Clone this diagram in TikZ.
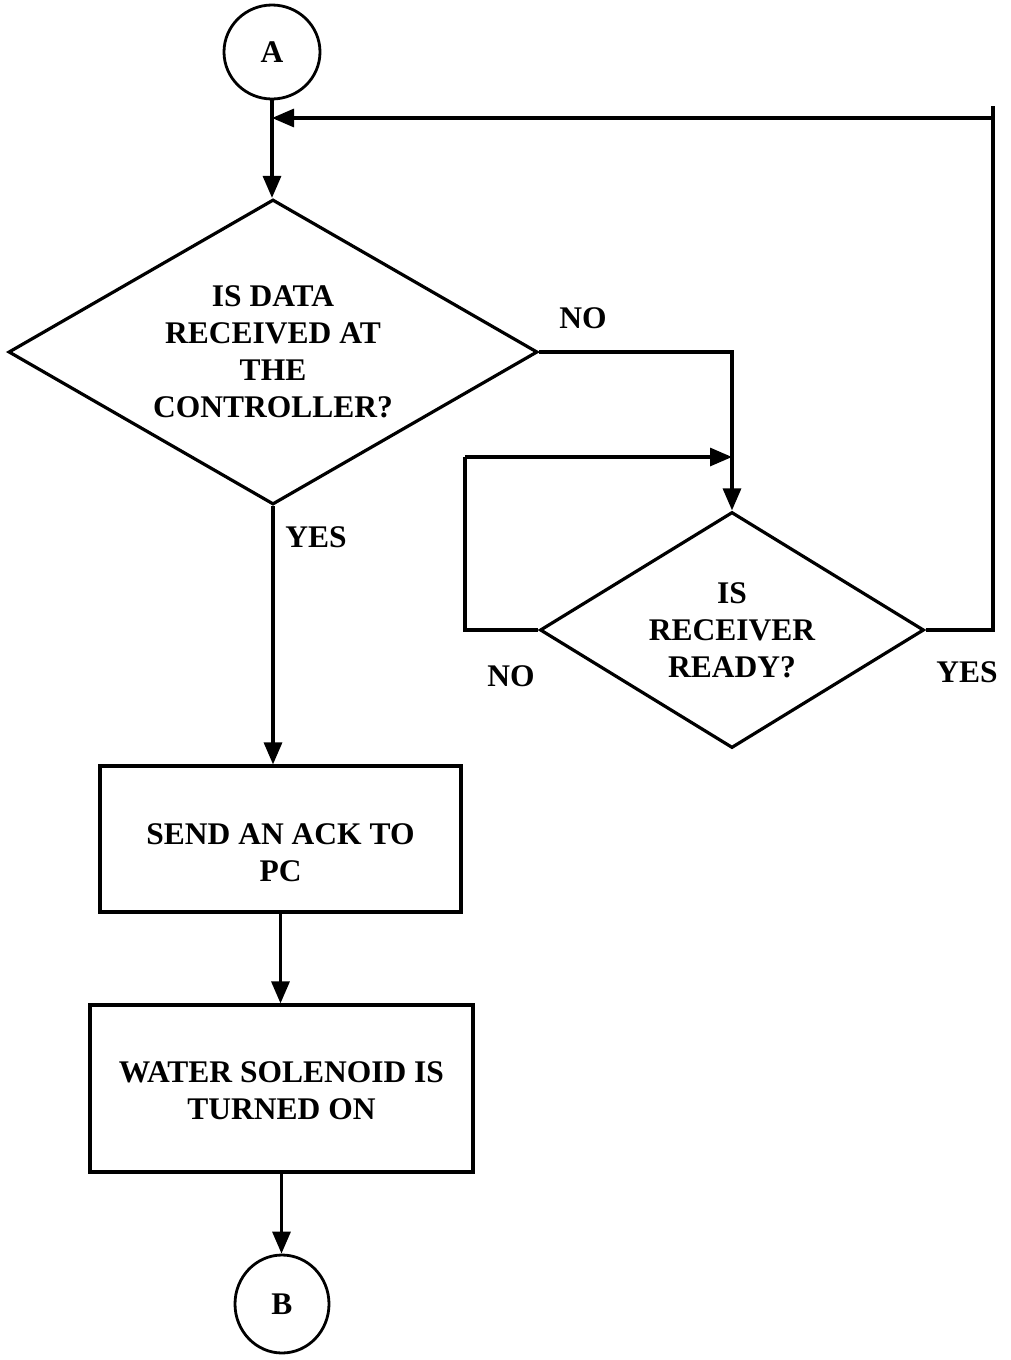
\documentclass[tikz,border=0pt]{standalone}
\usepackage{fontspec}
\setmainfont{Liberation Serif}
\usetikzlibrary{shapes.geometric,arrows.meta}
\begin{document}
\begin{tikzpicture}[x=1pt,y=-1pt,
  every node/.style={font=\fontsize{31.5}{37}\selectfont\bfseries},
  flow/.style={line width=3.2pt},
  arr/.style={flow,-{Triangle[length=22pt,width=18pt]}},
  conn/.style={draw,ellipse,line width=2.8pt,inner sep=0pt},
  decision/.style={draw,diamond,line width=3.2pt,align=center,inner sep=0pt},
  stepbox/.style={draw,rectangle,line width=3.2pt,inner sep=0pt},
  txt/.style={align=center,inner sep=0pt}]
\useasboundingbox (0,0) rectangle (1011,1360);

% connectors and boxes
\node[conn,minimum width=96pt,minimum height=94pt] (A) at (272,52) {A};
\node[decision,minimum width=529pt,minimum height=305pt,aspect=1.73] (d1) at (273,352)
  {IS DATA\\RECEIVED AT\\THE\\CONTROLLER?};
\node[decision,minimum width=384pt,minimum height=236pt,aspect=1.63] (d2) at (732,630)
  {IS\\RECEIVER\\READY?};
\node[stepbox,minimum width=361pt,minimum height=146pt] (r1) at (280.5,839) {};
\node[txt] (r1t) at (280.5,853) {SEND AN ACK TO\\PC};
\node[stepbox,minimum width=383pt,minimum height=167pt] (r2) at (281.5,1088.5) {};
\node[txt] (r2t) at (281.5,1091) {WATER SOLENOID IS\\TURNED ON};
\node[conn,minimum width=94pt,minimum height=98pt] (B) at (282,1304) {B};

% branch labels
\node[txt] (no1) at (583,318) {NO};
\node[txt] (yes1) at (316,537) {YES};
\node[txt] (no2) at (511,676) {NO};
\node[txt] (yes2) at (967,672) {YES};

% routing points
\coordinate (fb) at (993,118);
\coordinate (fbtop) at (993,106);
\coordinate (join) at (A.south |- fb);
\coordinate (n1) at (d2.north |- d1.east);
\coordinate (loopl) at (465,457);
\coordinate (loopr) at (d2.north |- loopl);

% main flow
\draw[arr] (A.south) -- (A.south |- d1.north);
\draw[arr] (d1.south) -- (d1.south |- r1.north);
\draw[arr] (r1.south) -- (r1.south |- r2.north);
\draw[arr] (r2.south) -- (r2.south |- B.north);

% NO branch of first decision
\draw[arr] (d1.east) -- (n1) -- (d2.north);

% NO loop of second decision
\draw[flow] (d2.west) -| (loopl);
\draw[arr] (loopl) -- (loopr);

% YES branch back to the top
\draw[flow] (d2.east) -| (fbtop);
\draw[arr] (fb) -- (join);
\end{tikzpicture}
\end{document}
